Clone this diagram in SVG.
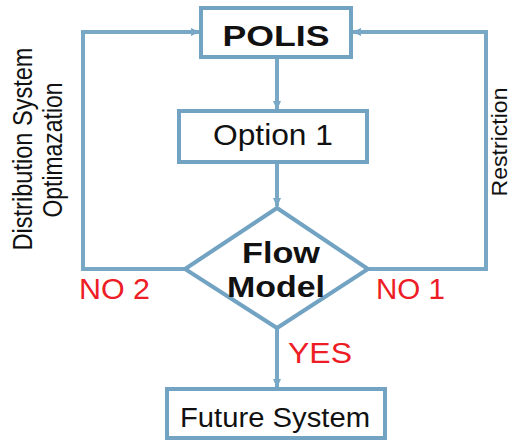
<svg xmlns="http://www.w3.org/2000/svg" width="511" height="441" viewBox="0 0 511 441">
<style>
.box{fill:#fff;stroke:#72A3C3;stroke-width:4}
.ln{fill:none;stroke:#78A8C6;stroke-width:4}
.t{font-family:"Liberation Sans",Arial,sans-serif;fill:#111}
.b{font-weight:bold}
.red{font-family:"Liberation Sans",Arial,sans-serif;fill:#EE1C25}
</style>
<defs>
<marker id="ah" markerUnits="userSpaceOnUse" markerWidth="9" markerHeight="10" viewBox="0 0 9 10" refX="8" refY="5" orient="auto">
<path d="M0,1 L9,5 L0,9 z" fill="#78A8C6"/>
</marker>
</defs>
<rect width="511" height="441" fill="#fff"/>
<g id="connectors">
<line class="ln" x1="277" y1="58" x2="277" y2="109" marker-end="url(#ah)"/>
<line class="ln" x1="277" y1="163" x2="277" y2="206" marker-end="url(#ah)"/>
<line class="ln" x1="277" y1="328" x2="277" y2="387" marker-end="url(#ah)"/>
<polyline class="ln" points="185,269 83,269 83,32 199,32" marker-end="url(#ah)"/>
<polyline class="ln" points="368,269 486,269 486,32 353,32" marker-end="url(#ah)"/>
</g>
<g id="polis">
<rect class="box" x="201" y="8" width="150" height="49"/>
<text class="t b" x="276" y="46" font-size="29" text-anchor="middle" textLength="107" lengthAdjust="spacingAndGlyphs">POLIS</text>
</g>
<g id="option1">
<rect class="box" x="179" y="111" width="188" height="51"/>
<text class="t" x="273" y="145" font-size="30" text-anchor="middle" textLength="120" lengthAdjust="spacingAndGlyphs">Option 1</text>
</g>
<g id="flowmodel">
<polygon class="box" points="277,208 368,269 277,328 185,269"/>
<text class="t b" x="281" y="263" font-size="29" text-anchor="middle" textLength="78" lengthAdjust="spacingAndGlyphs">Flow</text>
<text class="t b" x="276" y="297" font-size="29" text-anchor="middle" textLength="98" lengthAdjust="spacingAndGlyphs">Model</text>
</g>
<g id="future">
<rect class="box" x="167" y="389" width="218" height="49"/>
<text class="t" x="275" y="427" font-size="27" text-anchor="middle" textLength="190" lengthAdjust="spacingAndGlyphs">Future System</text>
</g>
<g id="labels">
<text class="red" x="79" y="299" font-size="29" textLength="71" lengthAdjust="spacingAndGlyphs">NO 2</text>
<text class="red" x="376" y="299" font-size="29" textLength="69" lengthAdjust="spacingAndGlyphs">NO 1</text>
<text class="red" x="288" y="363" font-size="29" textLength="64" lengthAdjust="spacingAndGlyphs">YES</text>
<text class="t" transform="translate(32,149) rotate(-90)" font-size="27" text-anchor="middle" textLength="203" lengthAdjust="spacingAndGlyphs">Distribution System</text>
<text class="t" transform="translate(62,150) rotate(-90)" font-size="27" text-anchor="middle" textLength="135" lengthAdjust="spacingAndGlyphs">Optimazation</text>
<text class="t" transform="translate(507,142) rotate(-90)" font-size="22" text-anchor="middle" textLength="109" lengthAdjust="spacingAndGlyphs">Restriction</text>
</g>
</svg>
